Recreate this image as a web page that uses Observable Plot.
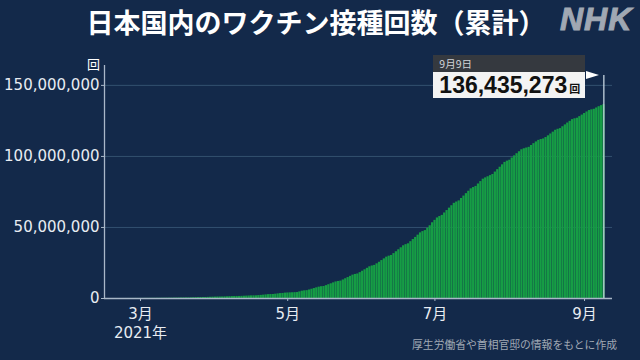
<!DOCTYPE html>
<html>
<head>
<meta charset="utf-8">
<script src="https://cdn.jsdelivr.net/npm/d3@7"></script>
<script src="https://cdn.jsdelivr.net/npm/@observablehq/plot@0.6"></script>
<style>
  html, body { margin: 0; padding: 0; background: #13294a; }
  #wrap { position: relative; width: 640px; height: 360px; overflow: hidden; background: #13294a;
          font-family: "Noto Sans CJK JP", "Noto Sans", sans-serif; }
  #title { position: absolute; left: 0; top: 4px; width: 632px; text-align: center; color: #ffffff;
           font-size: 27px; font-weight: bold; line-height: 36px; }
  #logo { position: absolute; left: 560px; top: 1px; color: #a0a8b3; font-family: "Liberation Sans", sans-serif;
          font-size: 32px; font-weight: bold; font-style: italic; letter-spacing: 1px; line-height: 36px;
          -webkit-text-stroke: 1px #a0a8b3; }
  #caption { position: absolute; right: 23px; top: 336px; color: #a0a8b4; font-size: 10.8px; line-height: 16px; }
  #chart { position: absolute; left: 0; top: 0; }
  .hdr { position: absolute; background: #35393f; color: #d0d3d8; font-size: 10.5px; line-height: 17px;
         padding-left: 6px; box-sizing: border-box; }
  .val { position: absolute; background: #f3f3f3; color: #111; box-sizing: border-box; padding-left: 6px;
         font-family: "Liberation Sans", sans-serif; font-weight: bold; font-size: 23px; line-height: 26px; white-space: nowrap; }
  .val span { font-family: "Noto Sans CJK JP", sans-serif; font-size: 11px; font-weight: bold; margin-left: 2px; }
  .flag { position: absolute; width: 0; height: 0; border-top: 4px solid transparent; border-bottom: 4px solid transparent;
          border-left: 13px solid #ffffff; }
</style>
</head>
<body>
<div id="wrap">
  <div id="chart"></div>
  <div id="title">日本国内のワクチン接種回数（累計）</div>
  <div id="logo">NHK</div>
  <div id="caption">厚生労働省や首相官邸の情報をもとに作成</div>
</div>
<script>
// Cumulative vaccine doses in Japan, millions, one value per day
const feb = [0.0001, 0.002, 0.005, 0.006, 0.007, 0.011, 0.013, 0.018, 0.024, 0.031, 0.033, 0.035]; // Feb 17–28
const mar = [0.045, 0.060, 0.075, 0.092, 0.110, 0.115, 0.118, 0.135, 0.150, 0.168, 0.190, 0.215, 0.225, 0.230, 0.262, 0.295,
             0.330, 0.365, 0.400, 0.412, 0.418, 0.470, 0.525, 0.580, 0.640, 0.700, 0.720, 0.728, 0.800, 0.870, 0.940];
const apr = [1.000, 1.060, 1.085, 1.095, 1.160, 1.230, 1.300, 1.360, 1.420, 1.445, 1.455, 1.530, 1.610, 1.690, 1.770,
             1.850, 1.880, 1.895, 2.050, 2.200, 2.360, 2.530, 2.710, 2.790, 2.830, 3.030, 3.240, 3.460, 3.560, 3.800];
const may = [3.900, 3.970, 4.040, 4.110, 4.190, 4.650, 5.150, 5.400, 5.520, 6.000, 6.500, 7.000, 7.500, 8.000, 8.300, 8.450,
             9.050, 9.700, 10.350, 11.000, 11.650, 12.000, 12.250, 13.050, 13.900, 14.750, 15.600, 16.450, 16.950, 17.250, 18.200];
const jun = [19.200, 20.200, 21.250, 22.300, 22.900, 23.300, 24.400, 25.500, 26.700, 27.900, 29.100, 29.800, 30.300, 31.600,
             32.900, 34.300, 35.700, 37.100, 37.900, 38.500, 40.000, 41.500, 43.000, 44.600, 46.200, 47.100, 47.800, 49.500, 51.200, 53.300];
const jul = [55.000, 56.700, 57.700, 58.500, 60.200, 61.900, 63.600, 65.300, 67.000, 67.900, 68.700, 70.400, 72.100, 73.800,
             75.500, 77.200, 78.100, 78.900, 80.600, 82.300, 84.000, 84.900, 85.700, 86.500, 87.300, 89.000, 90.700, 92.400, 94.100, 95.800, 96.700];
const aug = [97.300, 98.900, 100.400, 101.900, 103.300, 104.700, 105.400, 105.900, 106.400, 107.700, 109.000, 110.200, 111.300,
             111.900, 112.300, 113.300, 114.500, 115.800, 117.100, 118.400, 119.100, 119.600, 120.900, 122.200, 123.500, 124.700,
             125.900, 126.500, 126.900, 128.000, 129.100];
const sep = [130.200, 131.300, 132.300, 132.800, 133.200, 134.100, 135.000, 135.750, 136.435273]; // Sep 1–9

const monthBlocks = [[1, 17, feb], [2, 1, mar], [3, 1, apr], [4, 1, may], [5, 1, jun], [6, 1, jul], [7, 1, aug], [8, 1, sep]];
const xTicks = ["2021-03-01", "2021-05-01", "2021-07-01", "2021-09-01"];
const xTickLabels = ["3月\n2021年", "5月", "7月", "9月"];
const yTicks = [0, 50, 100, 150];
const lastLabel = "9月9日";
const lastValueText = "136,435,273";
const unit = "回";

const rows = monthBlocks.flatMap(([m, d0, vals]) =>
  vals.map((v, i) => ({ date: new Date(Date.UTC(2021, m, d0 + i)), v })));
const last = rows[rows.length - 1];
const tickDates = xTicks.map(s => new Date(s + "T00:00Z"));
const fmtNum = d3.format(",");

const chart = Plot.plot({
  width: 640,
  height: 360,
  marginLeft: 104,
  marginRight: 28,
  marginTop: 65,
  marginBottom: 62,
  style: { background: "transparent", color: "#e8ecf2", fontFamily: "'DejaVu Sans','Noto Sans CJK JP',sans-serif" },
  x: { type: "utc", domain: [new Date("2021-02-14T02:00Z"), new Date("2021-09-12T14:00Z")] },
  y: { domain: [0, 164] },
  marks: [
    Plot.gridY(yTicks.slice(1), { stroke: "#33506f", strokeOpacity: 1, strokeWidth: 1 }),
    Plot.rectY(rows, {
      x1: d => d3.utcHour.offset(d.date, -12),
      x2: d => d3.utcHour.offset(d.date, 12),
      y: "v",
      fill: "#169d45",
      insetLeft: 0.2
    }),
    Plot.ruleX([last], { x: "date", y1: 0, y2: 157, stroke: "#c4d2de", strokeWidth: 1.3 }),
    Plot.ruleY([0], { stroke: "#a9b7c8", strokeWidth: 1.3 }),
    Plot.ruleX([new Date("2021-02-14T02:00Z")], { stroke: "#a9b7c8", strokeWidth: 1.3 }),
    Plot.axisX({
      ticks: tickDates,
      tickFormat: (d, i) => xTickLabels[i],
      tickSize: 3,
      tickPadding: 4,
      stroke: "#a9b7c8",
      fontSize: 15,
      lineHeight: 1.25,
      label: null
    }),
    Plot.axisY({
      ticks: yTicks,
      tickFormat: d => fmtNum(d * 1e6),
      tickSize: 3,
      tickPadding: 2,
      stroke: "#a9b7c8",
      fontSize: 15,
      label: null
    }),
    Plot.text([unit], { frameAnchor: "top-left", dx: -11, dy: -1, fontSize: 13, fill: "#ffffff", textAnchor: "middle", lineAnchor: "middle" })
  ]
});
document.getElementById("chart").appendChild(chart);

// annotation for the latest value, anchored to the last bar through the scales
const xs = chart.scale("x"), ys = chart.scale("y");
const lx = xs.apply(last.date);
const fy = ys.apply(157);
const wrap = document.getElementById("wrap");
const boxRight = lx - 18, boxW = 152;
const hdr = document.createElement("div");
hdr.className = "hdr";
Object.assign(hdr.style, { left: (boxRight - boxW) + "px", top: (fy - 20) + "px", width: boxW + "px", height: "18px" });
hdr.textContent = lastLabel;
wrap.appendChild(hdr);
const val = document.createElement("div");
val.className = "val";
Object.assign(val.style, { left: (boxRight - boxW) + "px", top: (fy - 3) + "px", width: boxW + "px", height: "26px" });
val.innerHTML = lastValueText + "<span>" + unit + "</span>";
wrap.appendChild(val);
const flag = document.createElement("div");
flag.className = "flag";
Object.assign(flag.style, { left: (boxRight + 1) + "px", top: (fy - 4) + "px" });
wrap.appendChild(flag);
</script>
</body>
</html>
